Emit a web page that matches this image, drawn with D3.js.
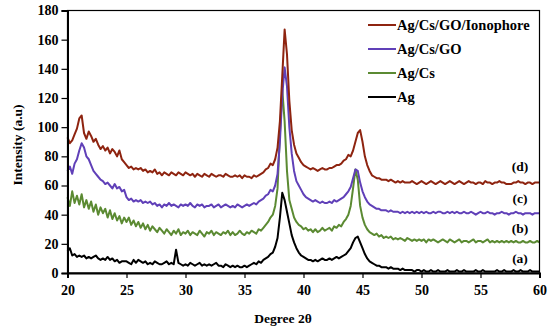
<!DOCTYPE html>
<html>
<head>
<meta charset="utf-8">
<script src="https://d3js.org/d3.v7.min.js"></script>
<style>
  body { margin: 0; background: #fff; }
  text { font-family: "Liberation Serif", "Times New Roman", serif; font-weight: bold; fill: #000; }
</style>
</head>
<body>
<svg id="chart" width="550" height="332"></svg>
<script>
// 2θ grid, 20..60 in 0.2 steps
var degrees = d3.range(0, 201).map(function (i) { return 20 + i * 0.2; });

var seriesNames = ["Ag/Cs/GO/Ionophore", "Ag/Cs/GO", "Ag/Cs", "Ag"];
var seriesTags = ["(d)", "(c)", "(b)", "(a)"];
var seriesColors = ["#8e2410", "#6040b8", "#5b8a32", "#000000"];

var agCsGoIono = [
  93, 89, 91, 95, 99, 106, 108, 96, 92, 97, 94, 90, 92, 88, 85, 87, 84, 86, 82, 85,
  83, 80, 84, 78, 76, 74, 72, 73, 71, 72, 71, 72, 70, 71, 69, 70, 69, 71, 68, 69,
  67, 69, 68, 67, 69, 68, 67, 69, 68, 67, 69, 68, 67, 68, 66, 68, 67, 66, 68, 67,
  66, 68, 67, 66, 67, 67, 66, 68, 67, 66, 66, 67, 66, 67, 65, 67, 66, 66, 65, 67,
  66, 67, 68, 69, 71, 72, 75, 74, 78, 86, 104, 135, 167, 150, 118, 98, 88, 82, 79, 76,
  74, 73, 72, 71, 72, 71, 70, 71, 72, 71, 71, 72, 72, 73, 74, 74, 75, 77, 78, 81,
  80, 84, 90, 96, 98, 90, 80, 74, 70, 67, 66, 65, 65, 64, 64, 64, 63, 64, 63, 62,
  63, 62, 63, 62, 62, 62, 63, 62, 61, 62, 63, 62, 61, 62, 63, 62, 61, 62, 63, 62,
  61, 62, 63, 62, 61, 62, 63, 62, 61, 62, 63, 62, 62, 61, 62, 62, 61, 63, 62, 62,
  61, 62, 62, 63, 62, 62, 61, 61, 61, 62, 62, 63, 62, 62, 61, 62, 62, 61, 62, 62,
  62
];

var agCsGo = [
  70, 73, 68, 75, 78, 84, 89, 86, 80, 78, 74, 70, 68, 66, 64, 63, 61, 62, 60, 58,
  61, 58, 59, 56, 57, 52, 50, 51, 49, 50, 49, 50, 48, 49, 48, 49, 47, 48, 46, 47,
  45, 47, 46, 48, 46, 47, 46, 45, 47, 46, 47, 46, 48, 46, 45, 47, 46, 47, 45, 46,
  46, 47, 45, 46, 47, 45, 46, 47, 46, 45, 46, 45, 47, 46, 45, 46, 47, 46, 47, 48,
  47, 49, 50, 51, 53, 54, 57, 56, 60, 68, 90, 122, 141, 128, 100, 82, 70, 63, 60, 57,
  54, 52, 51, 50, 49, 50, 49, 48, 49, 48, 48, 49, 48, 50, 49, 50, 51, 52, 54, 56,
  59, 65, 71, 70, 62, 56, 52, 49, 47, 46, 45, 44, 44, 43, 43, 43, 42, 43, 42, 42,
  42, 41, 42, 41, 42, 41, 42, 41, 42, 41, 42, 41, 42, 41, 41, 42, 41, 42, 42, 41,
  41, 42, 41, 42, 41, 42, 41, 41, 42, 41, 41, 42, 41, 40, 41, 42, 41, 41, 42, 41,
  41, 40, 41, 41, 42, 41, 41, 40, 41, 41, 42, 41, 41, 40, 41, 41, 41, 40, 41, 41,
  41
];

var agCs = [
  52, 46, 56, 48, 53, 47, 54, 45, 50, 44, 49, 42, 47, 40, 45, 41, 44, 38, 43, 37,
  41, 36, 39, 34, 38, 35, 38, 33, 36, 32, 35, 31, 34, 30, 33, 29, 32, 30, 28, 31,
  29, 27, 30, 28, 26, 29, 27, 30, 26, 28, 27, 29, 26, 28, 27, 26, 29, 27, 25, 28,
  27, 29, 26, 28, 27, 26, 28, 27, 29, 26, 28, 26, 27, 29, 27, 26, 28, 27, 29, 28,
  27, 30, 29, 31, 33, 35, 38, 40, 46, 58, 95, 126, 104, 70, 50, 44, 38, 35, 33, 32,
  30, 31, 29, 30, 28, 30, 28, 29, 31, 29, 30, 31, 29, 32, 31, 33, 32, 35, 37, 40,
  46, 58, 71, 64, 46, 38, 33, 30, 28, 27, 26, 27, 25, 26, 24, 25, 24, 25, 23, 24,
  23, 24, 23, 22, 24, 23, 22, 23, 22, 23, 22, 23, 21, 23, 22, 23, 22, 21, 22, 23,
  22, 21, 23, 22, 21, 22, 23, 21, 22, 22, 21, 22, 23, 21, 22, 22, 21, 22, 23, 21,
  22, 21, 22, 21, 22, 21, 22, 21, 22, 21, 22, 21, 21, 22, 21, 21, 22, 21, 21, 22,
  21
];

var ag = [
  15, 17, 12, 13, 11, 12, 11, 12, 10, 11, 10, 11, 12, 10, 9, 10, 9, 11, 9, 10,
  8, 9, 7, 8, 8, 8, 7, 6, 9, 7, 9, 8, 7, 8, 6, 7, 6, 8, 7, 6,
  6, 7, 8, 6, 7, 6, 16, 7, 6, 5, 6, 5, 7, 6, 5, 6, 7, 5, 6, 5,
  6, 5, 6, 7, 5, 5, 4, 6, 5, 4, 5, 4, 5, 4, 4, 5, 4, 5, 6, 7,
  6, 8, 7, 9, 10, 11, 13, 14, 18, 24, 38, 55, 50, 42, 34, 26, 21, 17, 14, 12,
  11, 10, 9, 9, 8, 9, 8, 9, 10, 9, 9, 10, 9, 10, 11, 10, 11, 12, 13, 15,
  17, 21, 24, 25, 21, 17, 13, 10, 8, 7, 6, 5, 5, 4, 4, 4, 3, 4, 3, 3,
  3, 2, 3, 2, 2, 2, 2, 1, 2, 2, 1, 2, 1, 1, 2, 1, 1, 2, 1, 1,
  1, 2, 1, 1, 1, 2, 1, 1, 2, 1, 1, 1, 1, 2, 1, 1, 2, 1, 1, 1,
  1, 1, 2, 1, 1, 2, 1, 1, 1, 2, 1, 1, 2, 1, 1, 1, 2, 1, 1, 1,
  1
];

var allSeries = [agCsGoIono, agCsGo, agCs, ag];
var xTicks = [20, 25, 30, 35, 40, 45, 50, 55, 60];
var yTicks = [0, 20, 40, 60, 80, 100, 120, 140, 160, 180];

var svg = d3.select("#chart");
var margin = { left: 67.5, right: 10.5, top: 10.5, bottom: 59 };
var width = 550 - margin.left - margin.right;
var height = 332 - margin.top - margin.bottom;

var x = d3.scaleLinear().domain([20, 60]).range([0, width]);
var y = d3.scaleLinear().domain([0, 180]).range([height, 0]);

var g = svg.append("g").attr("transform", "translate(" + margin.left + "," + margin.top + ")");

// curves, drawn from Ag upward so the top curve sits on top
var line = d3.line()
  .x(function (d, i) { return x(degrees[i]); })
  .y(function (d) { return y(d); });

for (var k = allSeries.length - 1; k >= 0; k--) {
  g.append("path")
    .datum(allSeries[k])
    .attr("fill", "none")
    .attr("stroke", seriesColors[k])
    .attr("stroke-width", 2)
    .attr("stroke-linejoin", "round")
    .attr("d", line);
}

// frame
g.append("rect")
  .attr("width", width).attr("height", height)
  .attr("fill", "none").attr("stroke", "#000").attr("stroke-width", 1.2);

// axes
var xAxis = g.append("g")
  .attr("transform", "translate(0," + height + ")")
  .call(d3.axisBottom(x).tickValues(xTicks).tickSize(5).tickPadding(7).tickFormat(d3.format("d")));
var yAxis = g.append("g")
  .call(d3.axisLeft(y).tickValues(yTicks).tickSize(6).tickPadding(3).tickFormat(d3.format("d")));

[xAxis, yAxis].forEach(function (a) {
  a.select(".domain").attr("stroke", "#000").attr("stroke-width", 2);
  a.selectAll(".tick line").attr("stroke", "#000").attr("stroke-width", 1.2);
  a.selectAll(".tick text").style("font-size", "14px").style("font-family", "Liberation Serif, serif").style("font-weight", "bold");
});

// axis titles
svg.append("text")
  .attr("x", 283).attr("y", 323)
  .attr("text-anchor", "middle")
  .style("font-size", "13.5px")
  .text("Degree 2θ");

svg.append("text")
  .attr("transform", "translate(22,145) rotate(-90)")
  .attr("text-anchor", "middle")
  .style("font-size", "13.5px")
  .text("Intensity (a.u)");

// legend
var legendY = [25, 49, 73, 97];
var legend = svg.append("g");
seriesNames.forEach(function (name, i) {
  legend.append("line")
    .attr("x1", 368).attr("x2", 396)
    .attr("y1", legendY[i]).attr("y2", legendY[i])
    .attr("stroke", seriesColors[i]).attr("stroke-width", 2);
  legend.append("text")
    .attr("x", 397).attr("y", legendY[i] + 5)
    .style("font-size", "14.5px")
    .text(name);
});

// curve tags
var tagY = [166, 198, 228, 258];
seriesTags.forEach(function (t, i) {
  svg.append("text")
    .attr("x", 520).attr("y", tagY[i] + 5)
    .attr("text-anchor", "middle")
    .style("font-size", "13.5px")
    .text(t);
});
</script>
</body>
</html>
